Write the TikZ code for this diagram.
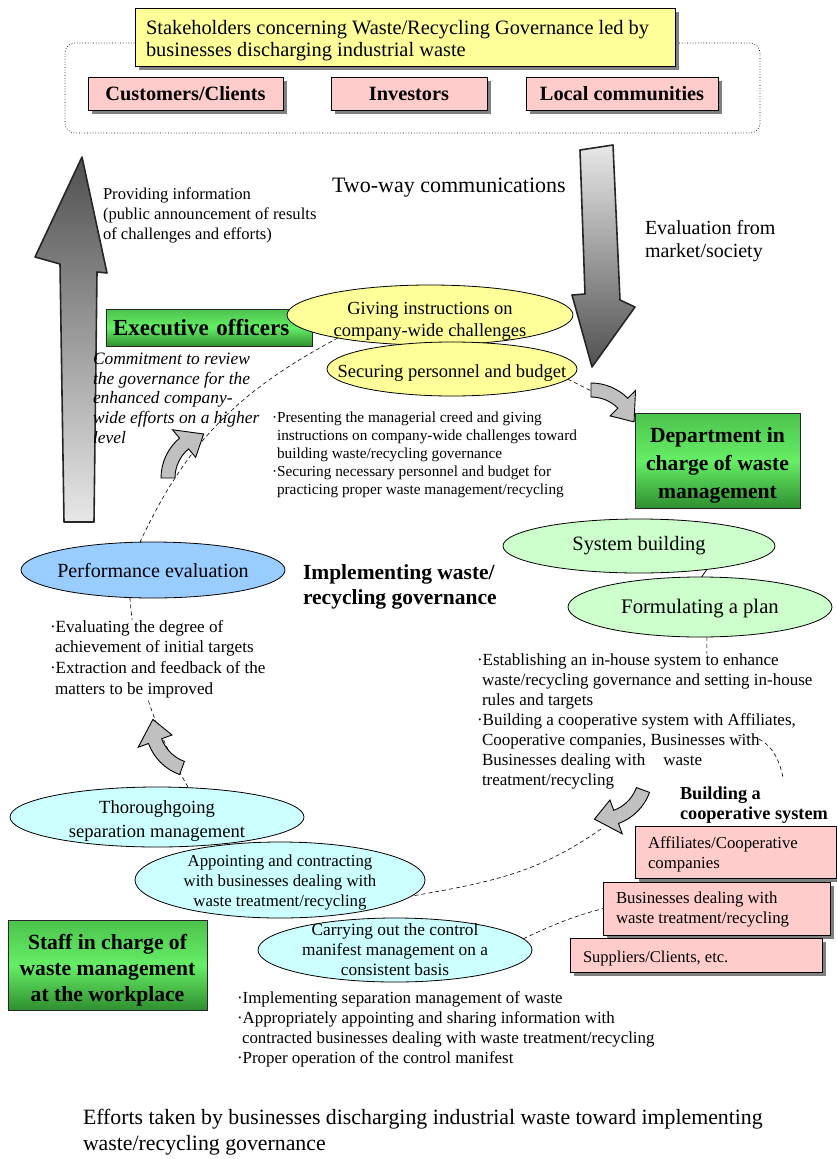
\documentclass[tikz,border=0pt]{standalone}
\usepackage{fontspec}
\setmainfont{Liberation Serif}
\usetikzlibrary{shapes.geometric,shadows}
\pgfdeclarelayer{background}
\pgfsetlayers{background,main}

\definecolor{boxyellow}{HTML}{FFFF99}
\definecolor{boxpink}{HTML}{FFCCCC}
\definecolor{ellgreen}{HTML}{CCFFCC}
\definecolor{ellblue}{HTML}{99CCFF}
\definecolor{ellcyan}{HTML}{CCFFFF}
\definecolor{arrowfill}{HTML}{C0C0C0}
\definecolor{arrowdark}{HTML}{505050}
\definecolor{arrowlight}{HTML}{E8E8E8}
\definecolor{shadowgray}{HTML}{808080}
\definecolor{gtop}{HTML}{4CC24C}
\definecolor{gmid}{HTML}{66EE66}
\definecolor{gbot}{HTML}{2F8F2F}

\newcommand{\fsz}[2]{\fontsize{#1}{#2}\selectfont}

% curved block arrow: start point, rotation, radius, sweep angle
\newcommand{\bentarrow}[4]{%
  \begin{scope}[shift={#1}, rotate=#2]
    \begin{scope}[shift={(#3,0)}]
      \pgfmathsetmacro{\bnEnd}{180-#4}
      \pgfmathsetmacro{\bnTip}{180-#4-22/#3*57.3}
      \pgfmathsetmacro{\bnOut}{#3+7}
      \pgfmathsetmacro{\bnIn}{#3-7}
      \pgfmathsetmacro{\bnSpO}{#3+18}
      \pgfmathsetmacro{\bnSpI}{#3-18}
      \draw[bentarrow] (180:\bnOut) arc[start angle=180, end angle=\bnEnd, radius=\bnOut]
        -- (\bnEnd:\bnSpO) -- (\bnTip:#3) -- (\bnEnd:\bnSpI) -- (\bnEnd:\bnIn)
        arc[start angle=\bnEnd, end angle=180, radius=\bnIn] -- cycle;
    \end{scope}
  \end{scope}}

\tikzset{
  shadowed/.style={general shadow={fill=shadowgray, shadow xshift=4pt, shadow yshift=-4pt}},
  frame/.style={draw, dotted, rounded corners=10pt, line width=0.7pt},
  titlebox/.style={draw, fill=boxyellow, line width=0.8pt, shadowed},
  pinkbox/.style={draw, fill=boxpink, line width=0.8pt, shadowed},
  greenbox/.style={draw=black!85, line width=0.9pt, top color=gtop, bottom color=gbot, middle color=gmid},
  oval/.style={ellipse, draw, line width=0.8pt},
  ovaltext/.style={align=center},
  note/.style={align=left, anchor=north west},
  loop/.style={line width=0.6pt, dash pattern=on 4pt off 3pt},
  bentarrow/.style={draw, fill=arrowfill, line width=0.9pt, line join=miter},
  bigarrow/.style={draw=black!85, line width=1.6pt, line join=round},
}

\begin{document}
\begin{tikzpicture}[x=1pt, y=1pt, every node/.style={inner sep=0pt, outer sep=0pt}]
\useasboundingbox (0,0) rectangle (836,-1159);

% stakeholders
\node[frame, minimum width=695pt, minimum height=90pt] (frame) at (412.5,-88) {};
\node[titlebox, minimum width=540pt, minimum height=58pt] (title) at (405,-37) {};
\node[note, font=\fsz{20.4}{22}] (titletxt) at ([xshift=11pt, yshift=-12pt]title.north west)
  {Stakeholders concerning Waste/Recycling Governance led by\\businesses discharging industrial waste};
\node[pinkbox, minimum width=195pt, minimum height=33pt, font=\bfseries\fsz{20.3}{22}] (customers) at (185.5,-93.5) {Customers/Clients};
\node[pinkbox, minimum width=156pt, minimum height=33pt, font=\bfseries\fsz{20.3}{22}] (investors) at (409,-93.5) {Investors};
\node[pinkbox, minimum width=192pt, minimum height=33pt, font=\bfseries\fsz{20.3}{22}] (communities) at (622,-93.5) {Local communities};

% two-way communication arrows
\path[bigarrow, top color=arrowdark, bottom color=arrowlight]
  (64,-522) -- (60,-264) -- (35,-257) -- (82,-157) -- (107,-273) -- (97,-272) -- (94,-522) -- cycle;
\path[bigarrow, top color=arrowlight, bottom color=arrowdark]
  (580,-150) -- (613,-145) -- (620,-300) -- (635,-307) -- (592,-367) -- (572,-295) -- (585,-294) -- cycle;

\node[anchor=base west, font=\fsz{22}{26}] (twoway) at (332,-192) {Two-way communications};
\node[note, font=\fsz{16.6}{20}] (provide) at (103,-187.4)
  {Providing information\\(public announcement of results\\of challenges and efforts)};
\node[note, font=\fsz{20}{23}] (evalmarket) at (645,-220) {Evaluation from\\market/society};

% executive officers
\node[greenbox, minimum width=206pt, minimum height=37pt, text width=192pt, align=left,
      font=\bfseries\fsz{23}{26}] (exec) at (209,-327.5) {Executive officers};
\node[oval, fill=boxyellow, minimum width=286pt, minimum height=60pt] (giving) at (430,-315) {};
\node[ovaltext, font=\fsz{18.5}{22}] (givingtxt) at ([yshift=-6pt]giving.center) {Giving instructions on\\company-wide challenges};
\node[oval, fill=boxyellow, minimum width=250pt, minimum height=54pt] (secure) at (452,-369) {};
\node[ovaltext, font=\fsz{18.5}{22}] (securetxt) at ([yshift=-4pt]secure.center) {Securing personnel and budget};

\node[note, font=\itshape\fsz{17.4}{19.8}] (commit) at (93,-352.8)
  {Commitment to review\\the governance for the\\enhanced company-\\wide efforts on a higher\\level};
\node[note, font=\fsz{15.3}{18.2}] (execnotes) at (272,-411.4)
  {·Presenting the managerial creed and giving\\
   \hspace*{5pt}instructions on company-wide challenges toward\\
   \hspace*{5pt}building waste/recycling governance\\
   ·Securing necessary personnel and budget for\\
   \hspace*{5pt}practicing proper waste management/recycling};

% department in charge
\node[greenbox, minimum width=165pt, minimum height=95pt] (dept) at (717.5,-460.5) {};
\node[ovaltext, font=\bfseries\fsz{21.6}{28}] (depttxt) at ([yshift=-5pt]dept.center) {Department in\\charge of waste\\management};
\node[note, font=\bfseries\fsz{21.5}{25}] (govern) at (303,-565) {Implementing waste/\\recycling governance};

\node[oval, fill=ellgreen, minimum width=272pt, minimum height=54pt] (sys) at (639,-546) {};
\node[ovaltext, font=\fsz{20.4}{22}] (systxt) at (sys.center) {System building};
\node[oval, fill=ellgreen, minimum width=264pt, minimum height=60pt] (form) at (700,-607) {};
\node[ovaltext, font=\fsz{20.7}{22}] (formtxt) at ([yshift=-2pt]form.center) {Formulating a plan};
\draw[line width=0.8pt] (sys.-19) -- (form.87);

% performance evaluation
\node[oval, fill=ellblue, minimum width=264pt, minimum height=56pt] (perf) at (153,-570) {};
\node[ovaltext, font=\fsz{20.1}{22}] (perftxt) at ([yshift=-1pt]perf.center) {Performance evaluation};
\node[note, fill=white, font=\fsz{17.1}{20.7}] (perfnotes) at (50,-620)
  {·Evaluating the degree of\\
   \hspace*{5pt}achievement of initial targets\\
   ·Extraction and feedback of the\\
   \hspace*{5pt}matters to be improved};

\node[note, fill=white, font=\fsz{17}{20}] (formnotes) at (477,-653.6)
  {·Establishing an in-house system to enhance\\
   \hspace*{5pt}waste/recycling governance and setting in-house\\
   \hspace*{5pt}rules and targets\\
   ·Building a cooperative system with Affiliates,\\
   \hspace*{5pt}Cooperative companies, Businesses with\\
   \hspace*{5pt}Businesses dealing with\hspace*{18pt}waste\\
   \hspace*{5pt}treatment/recycling};
\node[note, font=\bfseries\fsz{18.3}{20}] (coop) at (680,-787) {Building a\\cooperative system};

% workplace
\node[oval, fill=ellcyan, minimum width=294pt, minimum height=60pt] (thor) at (157,-817) {};
\node[ovaltext, font=\fsz{18.6}{24}] (thortxt) at ([yshift=-4pt]thor.center) {Thoroughgoing\\separation management};
\node[oval, fill=ellcyan, minimum width=290pt, minimum height=76pt] (appoint) at (280,-880) {};
\node[ovaltext, font=\fsz{16.8}{20}] (appointtxt) at ([yshift=-2pt]appoint.center)
  {Appointing and contracting\\with businesses dealing with\\waste treatment/recycling};
\node[oval, fill=ellcyan, minimum width=274pt, minimum height=64pt] (carry) at (395,-950) {};
\node[ovaltext, font=\fsz{17.3}{20}] (carrytxt) at (carry.center)
  {Carrying out the control\\manifest management on a\\consistent basis};
\node[greenbox, minimum width=199pt, minimum height=90pt] (staff) at (107.5,-965) {};
\node[ovaltext, font=\bfseries\fsz{21.6}{26}] (stafftxt) at ([yshift=-5pt]staff.center) {Staff in charge of\\waste management\\at the workplace};

% cooperating parties
\node[pinkbox, minimum width=201pt, minimum height=52pt] (affil) at (735.5,-852) {};
\node[note, font=\fsz{16.8}{20}] (affiltxt) at ([xshift=13pt, yshift=-11pt]affil.north west) {Affiliates/Cooperative\\companies};
\node[pinkbox, minimum width=227pt, minimum height=53pt] (biz) at (716.5,-908.5) {};
\node[note, font=\fsz{16.8}{20}] (biztxt) at ([xshift=13pt, yshift=-10pt]biz.north west) {Businesses dealing with\\waste treatment/recycling};
\node[pinkbox, minimum width=252pt, minimum height=34pt] (supp) at (696,-955) {};
\node[note, font=\fsz{16.5}{20}] (supptxt) at ([xshift=13pt, yshift=-13pt]supp.north west) {Suppliers/Clients, etc.};

\node[note, font=\fsz{16.9}{20}] (worknotes) at (237,-992)
  {·Implementing separation management of waste\\
   ·Appropriately appointing and sharing information with\\
   \hspace*{5pt}contracted businesses dealing with waste treatment/recycling\\
   ·Proper operation of the control manifest};

\node[note, font=\fsz{21.8}{26}] (caption) at (83,-1109)
  {Efforts taken by businesses discharging industrial waste toward implementing\\waste/recycling governance};

% the governance cycle
\coordinate (coopbend) at (745,-736);
\coordinate (coopend) at (783,-778);
\coordinate (coopstart) at (601,-829);
\begin{pgfonlayer}{background}
  \draw[loop] (giving.194) to[out=208, in=65] (perf.115);
  \draw[loop] (perf.230) to[out=-85, in=120] (thor.43);
  \draw[loop] (secure.-5) -- (dept.north west);
  \draw[loop] (form.283) to[out=-90, in=180] (coopbend) to[out=0, in=100] (coopend);
  \draw[loop] (coopstart) to[out=215, in=10] (appoint.-7);
  \draw[loop] (carry.5) to[out=25, in=195] (biz.west);
\end{pgfonlayer}
\begin{scope}
  \clip (737,-725) rectangle (800,-800);
  \draw[loop] (form.283) to[out=-90, in=180] (coopbend) to[out=0, in=100] (coopend);
\end{scope}

\bentarrow{(168,-478)}{0}{45}{50}
\bentarrow{(182,-768)}{70}{45}{50}
\bentarrow{(591,-390)}{-90}{45}{45}
\bentarrow{(643,-790)}{160}{45}{50}

\end{tikzpicture}
\end{document}
